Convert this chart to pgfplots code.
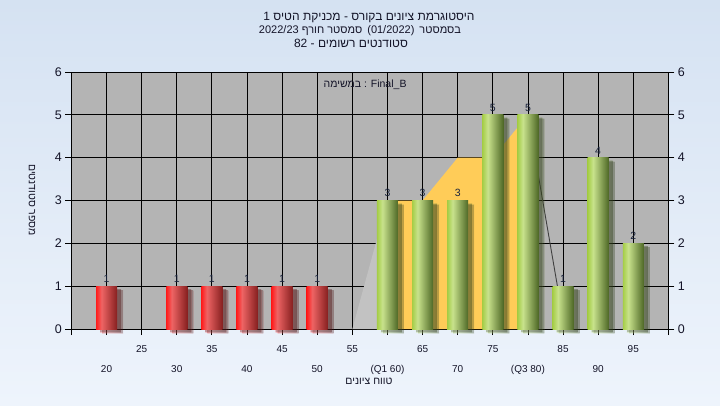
\documentclass[border=0pt]{standalone}
\usepackage{pgfplots}
\pgfplotsset{compat=1.18}
\usepackage{fontspec}
\setmainfont{Liberation Sans}
\newfontfamily\hebfont[Script=Hebrew]{Liberation Sans}
\usetikzlibrary{shadows,backgrounds}
\TeXXeTstate=1
\definecolor{bgtop}{RGB}{213,226,242}
\definecolor{bgbot}{RGB}{238,244,252}
\definecolor{plotgray}{RGB}{180,180,180}
\definecolor{lightarea}{RGB}{194,194,194}
\definecolor{yellowarea}{RGB}{255,204,88}
\definecolor{txt}{RGB}{20,20,40}
\definecolor{lab}{RGB}{25,35,60}
\definecolor{rA}{RGB}{255,28,28}
\definecolor{rB}{RGB}{238,100,100}
\definecolor{rD}{RGB}{135,32,32}
\definecolor{gA}{RGB}{165,205,70}
\definecolor{gB}{RGB}{200,226,140}
\definecolor{gD}{RGB}{78,104,38}
\pgfdeclarehorizontalshading{redbar}{100bp}{color(0bp)=(rA); color(25bp)=(rA); color(38bp)=(rB); color(75bp)=(rD); color(100bp)=(rD)}
\pgfdeclarehorizontalshading{greenbar}{100bp}{color(0bp)=(gA); color(25bp)=(gA); color(38bp)=(gB); color(75bp)=(gD); color(100bp)=(gD)}
\pgfplotsset{
  rb/.style={ybar, bar width=21pt, bar shift=0pt, draw=none, shade, shading=redbar,
    drop shadow={shadow xshift=6pt, shadow yshift=-4pt, opacity=0.18, fill=black},
    drop shadow={shadow xshift=4pt, shadow yshift=-3pt, opacity=0.22, fill=black},
    nodes near coords},
  gb/.style={ybar, bar width=21pt, bar shift=0pt, draw=none, shade, shading=greenbar,
    drop shadow={shadow xshift=6pt, shadow yshift=-4pt, opacity=0.18, fill=black},
    drop shadow={shadow xshift=4pt, shadow yshift=-3pt, opacity=0.22, fill=black},
    nodes near coords},
}
\begin{document}
\begin{tikzpicture}
\useasboundingbox (-71.4pt,-76pt) rectangle (648.6pt,329pt);
\begin{axis}[
  at={(0pt,0pt)}, anchor=south west,
  width=597pt, height=257pt, scale only axis,
  xmin=15, xmax=100, ymin=0, ymax=6,
  clip=false,
  axis background/.style={fill=plotgray},
  axis line style={black, line width=0.8pt},
  grid=major, major grid style={black, line width=0.8pt},
  tick align=outside, major tick length=6pt,
  tick style={black, line width=0.8pt},
  xtick pos=bottom, ytick pos=left,
  xtick={15,25,35,45,55,65,75,85,95,100},
  xticklabels={,25,35,45,55,65,75,85,95,},
  extra x ticks={20,30,40,50,60,70,80,90},
  extra x tick labels={20,30,40,50,(Q1 60),70,(Q3 80),90},
  extra x tick style={grid=major, tick label style={yshift=-20pt}},
  xticklabel style={font=\fontsize{10}{12}\selectfont, text=txt, anchor=base, yshift=-17pt},
  ytick={0,1,2,3,4,5,6},
  yticklabel style={font=\fontsize{12.5}{14}\selectfont, text=txt},
  /pgf/number format/assume math mode=true,
  nodes near coords style={font=\fontsize{10.5}{12}\selectfont, text=lab},
]
\addplot[fill=lightarea, draw=none] coordinates {(55,0) (60,3) (60,0)} -- cycle;
\addplot[fill=yellowarea, draw=none] coordinates {(60,0) (60,3) (65,3) (70,4) (75,4) (80,5) (80,0)} -- cycle;
\addplot[color=black!75, line width=0.9pt] coordinates {(80,5) (84.2,1)};
\addplot[rb] coordinates {(20,1)};
\addplot[rb] coordinates {(30,1)};
\addplot[rb] coordinates {(35,1)};
\addplot[rb] coordinates {(40,1)};
\addplot[rb] coordinates {(45,1)};
\addplot[rb] coordinates {(50,1)};
\addplot[gb] coordinates {(60,3)};
\addplot[gb] coordinates {(65,3)};
\addplot[gb] coordinates {(70,3)};
\addplot[gb] coordinates {(75,5)};
\addplot[gb] coordinates {(80,5)};
\addplot[gb] coordinates {(85,1)};
\addplot[gb] coordinates {(90,4)};
\addplot[gb] coordinates {(95,2)};
\node[font=\fontsize{10.5}{12}\selectfont, text=txt] at (rel axis cs:0.492,0.949) {{\hebfont\beginR במשימה\endR} : Final\_B};
\end{axis}
\begin{axis}[
  at={(0pt,0pt)}, anchor=south west,
  width=597pt, height=257pt, scale only axis,
  xmin=15, xmax=100, ymin=0, ymax=6,
  axis y line*=right, axis x line=none,
  axis line style={black, line width=0.8pt},
  tick align=outside, major tick length=6pt,
  tick style={black, line width=0.8pt},
  ytick={0,1,2,3,4,5,6},
  yticklabel style={font=\fontsize{12.5}{14}\selectfont, text=txt},
  /pgf/number format/assume math mode=true,
]
\end{axis}
\begin{scope}[on background layer]
\shade[top color=bgtop, bottom color=bgbot] (-71.4pt,-76pt) rectangle (648.6pt,329pt);
\end{scope}
\node[font=\fontsize{12}{14}\selectfont, text=txt] at (297.6pt,311pt) {{\hebfont\beginR היסטוגרמת ציונים בקורס - מכניקת הטיס 1\endR}};
\node[font=\fontsize{11}{13}\selectfont, text=txt] at (288.6pt,298pt) {{\hebfont\beginR בסמסטר\hspace{2pt} (01/2022)\hspace{2pt} סמסטר חורף 2022/23\endR}};
\node[font=\fontsize{12}{14}\selectfont, text=txt] at (279.6pt,286pt) {{\hebfont\beginR סטודנטים רשומים - 82\endR}};
\node[font=\fontsize{10.5}{12}\selectfont, text=txt] at (297.6pt,-52pt) {{\hebfont\beginR טווח ציונים\endR}};
\node[font=\fontsize{10.5}{12}\selectfont, text=txt, rotate=-90] at (-39.4pt,129pt) {{\hebfont\beginR מספר סטודנטים\endR}};
\end{tikzpicture}
\end{document}
